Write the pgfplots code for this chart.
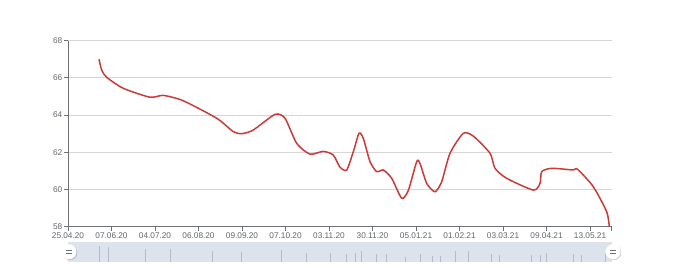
\documentclass[border=0pt]{standalone}
\usepackage{fontspec}
\setmainfont{Liberation Sans}
\usepackage{pgfplots}
\pgfplotsset{compat=1.18}
\usetikzlibrary{shadows}
\definecolor{linered}{HTML}{CA3A37}
\definecolor{axisgray}{HTML}{6E7079}
\definecolor{gridgray}{HTML}{D6D6D6}
\definecolor{sliderbg}{HTML}{DDE3EC}
\definecolor{shadowline}{HTML}{B4BCC8}
\begin{document}
\begin{tikzpicture}[x=1bp,y=1bp]
\path[use as bounding box] (0,0) rectangle (680,267);
\begin{axis}[
  at={(68bp,40.3bp)}, anchor=south west,
  scale only axis, width=543.7bp, height=186bp,
  xmin=0, xmax=543.7, ymin=58, ymax=68,
  axis x line*=bottom, axis y line*=left,
  axis line style={axisgray, line width=0.8bp},
  every outer x axis line/.append style={-}, every outer y axis line/.append style={-},
  xtick={0,43.5,87,130.5,174,217.5,261,304.5,348,391.5,435,478.5,522,543.7},
  xticklabels={25.04.20,07.06.20,04.07.20,06.08.20,09.09.20,07.10.20,03.11.20,30.11.20,05.01.21,01.02.21,03.03.21,09.04.21,13.05.21,{}},
  ytick={58,60,...,68},
  ymajorgrids, grid style={gridgray, line width=0.8bp},
  tick align=outside, major tick length=4bp,
  tick style={axisgray, line width=0.8bp},
  x tick label style={font=\fontsize{8.3}{9}\selectfont, text=axisgray!90!black, inner sep=0pt, yshift=-1.5bp, anchor=north},
  y tick label style={font=\fontsize{8.3}{9}\selectfont, text=axisgray!90!black, inner sep=0pt, xshift=-1.5bp, anchor=east},
  /pgf/number format/assume math mode=true,
  clip=false,
]
\addplot[linered, line width=1.5bp, smooth, tension=0.4] coordinates {
(31,67.0) (33.7,66.42) (38.7,66.03) (55.3,65.44) (82,64.96) (95.3,65.06)
(115.3,64.77) (148.7,63.83) (165.3,63.11) (173.7,63.0) (185.3,63.2) (207,64.04)
(217,63.83) (228.7,62.48) (242,61.9) (255.3,62.05) (265.3,61.85) (272,61.2)
(278.7,61.05) (285.3,62.03) (291,63.02) (295.3,62.75) (302,61.5) (308.7,60.96)
(315.3,61.05) (323.7,60.6) (333.7,59.53) (340.3,59.95) (348.7,61.5) (352,61.4)
(358.7,60.33) (367,59.88) (373.7,60.42) (382,61.95) (395.3,63.02) (405.3,62.87)
(422,61.95) (427,61.14) (438.7,60.6) (465.3,59.97) (472,60.33) (473.7,60.96)
(483.7,61.14) (505.3,61.05) (509.3,61.1) (525.3,60.15) (538.7,58.8) (541.3,58.0)
};
\end{axis}
\begin{axis}[
  at={(68bp,5.3bp)}, anchor=south west,
  scale only axis, width=543.7bp, height=19.4bp,
  xmin=0, xmax=543.7, ymin=0, ymax=19.4,
  axis lines=none, ticks=none,
  axis background/.style={fill=sliderbg},
  clip=false,
]
\addplot[ycomb, shadowline, line width=0.8bp, mark=none] coordinates {
(31.3,16) (40.3,14.7) (77.7,12.7) (102.7,12.7) (144.3,11) (173.7,9.7)
(213.7,11.4) (238.7,8.7) (262,8.7) (278.7,7.7) (287,8.7) (293.7,10.4)
(308.7,7.7) (318.7,7.7) (337,4.7) (352.7,8) (364.3,6) (372.7,6)
(387,10.4) (400.3,10.4) (423.7,8) (431.3,7) (463.7,6.4) (472,7)
(478.7,8.7) (505.3,7.7) (513.7,7) (537,7.4)
};
\node[circle, fill=white, minimum size=15bp, inner sep=0pt, drop shadow={shadow xshift=0.8bp, shadow yshift=-0.8bp, opacity=0.4}] at (axis cs:1,9.9) {};
\draw[axisgray, line width=0.9bp] (axis cs:1,9.9) ++(-2.7bp,1.4bp) -- ++(5.4bp,0);
\draw[axisgray, line width=0.9bp] (axis cs:1,9.9) ++(-2.7bp,-1.4bp) -- ++(5.4bp,0);
\node[circle, fill=white, minimum size=15bp, inner sep=0pt, drop shadow={shadow xshift=0.8bp, shadow yshift=-0.8bp, opacity=0.4}] at (axis cs:545,9.9) {};
\draw[axisgray, line width=0.9bp] (axis cs:545,9.9) ++(-2.7bp,1.4bp) -- ++(5.4bp,0);
\draw[axisgray, line width=0.9bp] (axis cs:545,9.9) ++(-2.7bp,-1.4bp) -- ++(5.4bp,0);
\end{axis}
\end{tikzpicture}
\end{document}
